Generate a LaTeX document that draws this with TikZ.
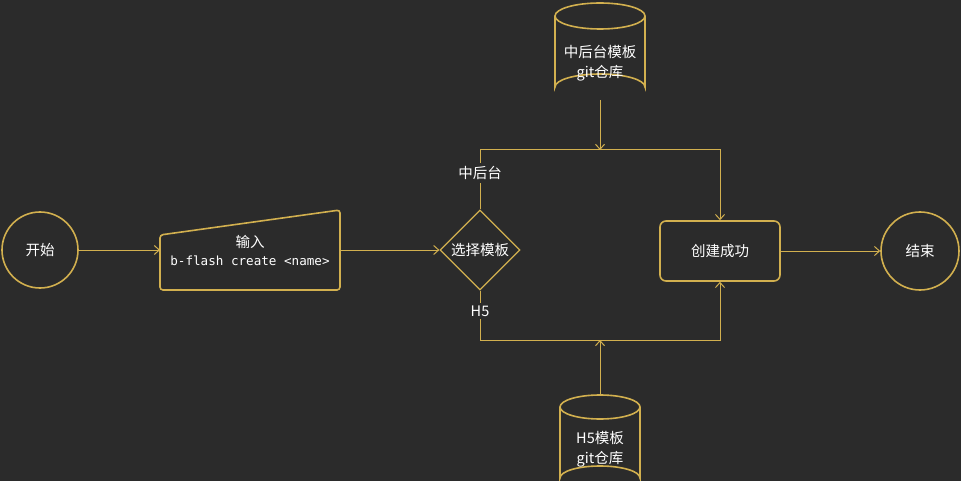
\documentclass[tikz,border=0pt]{standalone}
\usepackage{fontspec}
\setmainfont{Noto Sans CJK SC}
\newfontfamily\cmdfont{DejaVu Sans Mono}
\usetikzlibrary{arrows.meta,shapes.geometric}
\definecolor{bg}{HTML}{2B2B2B}
\definecolor{gold}{HTML}{D2B04F}
\tikzset{
  shapeline/.style={draw=gold,line width=1.6pt},
  conn/.style={draw=gold,line width=1pt,-{Straight Barb[length=5pt,width=9pt,line width=1pt]}},
  txt/.style={text=white,font=\fontsize{14.5}{20}\selectfont,align=center},
  lbl/.style={txt,fill=bg,inner sep=3pt},
  ghost/.style={inner sep=0pt,outer sep=0pt},
}
\begin{document}
\begin{tikzpicture}[x=1pt,y=-1pt]
\fill[bg] (0,0) rectangle (961,481);
\useasboundingbox (0,0) rectangle (961,481);
\clip (0,0) rectangle (961,481);

% start / end
\node[circle,shapeline,minimum size=76pt,txt] (start) at (40,250) {开始};
\node[circle,shapeline,minimum size=78pt,txt] (end) at (920,251) {结束};

% input (manual input trapezoid)
\node[ghost,minimum width=180pt,minimum height=80pt] (inp) at (250,250) {};
\draw[shapeline,rounded corners=3pt] (inp.west |- 0,235) -- (inp.north east) -- (inp.south east) -- (inp.south west) -- cycle;
\node[txt] (inptxt) at (250,250) {输入\\[-2pt]{\cmdfont\fontsize{12.6}{15}\selectfont b-flash create <name>}};

% decision
\node[diamond,shapeline,line width=1.2pt,minimum width=80pt,minimum height=80pt,inner sep=0pt,txt] (dec) at (480,250) {选择模板};

% result
\node[rectangle,rounded corners=6pt,shapeline,minimum width=120pt,minimum height=60pt,txt] (ok) at (720,251) {创建成功};

% top cylinder
\node[ghost,minimum width=90pt,minimum height=98pt] (cylA) at (600,51) {};
\draw[shapeline] (cylA.west |- 0,16) -- (cylA.west |- 0,87) arc[start angle=180,end angle=360,x radius=45pt,y radius=-13pt] -- (cylA.east |- 0,16);
\draw[shapeline] (600,16) ellipse[x radius=45pt,y radius=13pt];
\node[txt] (cylAtxt) at (600,63) {中后台模板\\git仓库};

% bottom cylinder
\node[ghost,minimum width=80pt,minimum height=100pt] (cylB) at (600,445) {};
\draw[shapeline] (cylB.west |- 0,407) -- (cylB.west |- 0,478) arc[start angle=180,end angle=360,x radius=40pt,y radius=-12pt] -- (cylB.east |- 0,407);
\draw[shapeline] (600,407) ellipse[x radius=40pt,y radius=12pt];
\node[txt] (cylBtxt) at (600,449) {H5模板\\git仓库};

% junction coordinates
\coordinate (tl) at (480,150);
\coordinate (tr) at (720,150);
\coordinate (tj) at (600,150);
\coordinate (bl) at (480,340);
\coordinate (br) at (720,340);
\coordinate (bj) at (600,340);

% connectors
\draw[conn] (start) -- (inp.west);
\draw[conn] (inp.east) -- (dec.west);
\draw[conn] (dec.north) -- (tl) -- (tr) -- (ok.north);
\draw[conn] (dec.south) -- (bl) -- (br) -- (ok.south);
\draw[conn] (cylA.south) -- (tj);
\draw[conn] (cylB.north) -- (bj);
\draw[conn] (ok.east) -- (end.west);

% branch labels
\node[lbl] (lblA) at (480,173) {中后台};
\node[lbl] (lblB) at (480,311) {H5};
\end{tikzpicture}
\end{document}
